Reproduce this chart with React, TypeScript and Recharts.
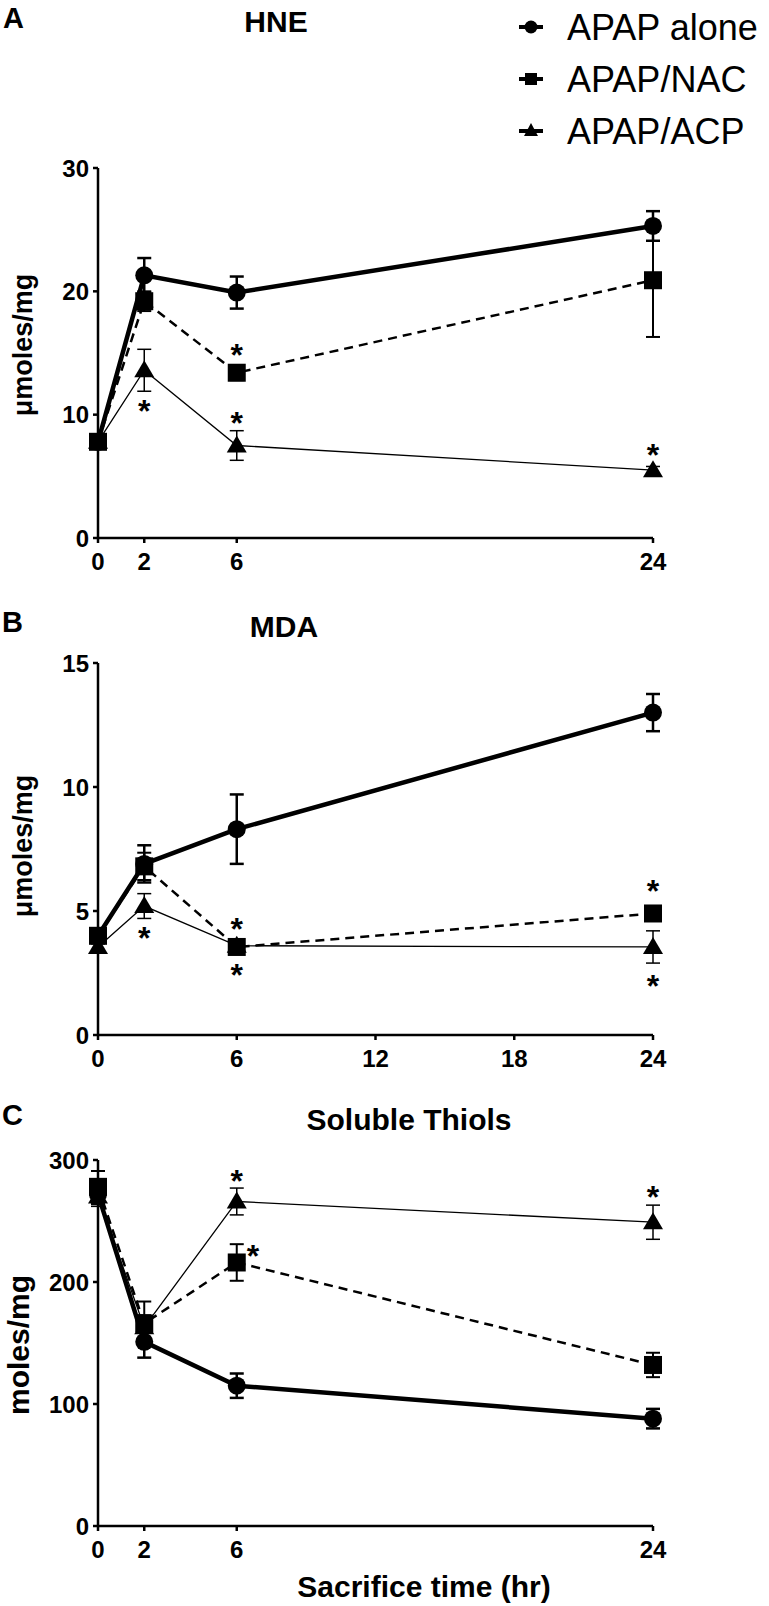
import React from "react";
import {ComposedChart, Line, Scatter, XAxis, YAxis, ErrorBar} from "recharts";

// sampling times (hr)
const hours = [0, 2, 6, 24];

// HNE (umoles/mg)
const hneAlone = [7.8, 21.3, 19.9, 25.3];
const hneAloneErr = [0.5, 1.4, 1.3, 1.2];
const hneNac = [7.8, 19.2, 13.4, 20.9];
const hneNacErr = [0.5, 0.8, 0.6, 4.6];
const hneAcp = [7.8, 13.6, 7.5, 5.5];
const hneAcpErr = [0.5, 1.7, 1.2, 0.3];
const hneStars = [{t: 6, v: 15.3}, {t: 2, v: 10.8}, {t: 6, v: 9.8}, {t: 24, v: 7.2}];

// MDA (umoles/mg)
const mdaAlone = [4.0, 6.9, 8.3, 13.0];
const mdaAloneErr = [0.3, 0.75, 1.4, 0.75];
const mdaNac = [4.0, 6.8, 3.55, 4.9];
const mdaNacErr = [0.3, 0.55, 0.2, 0.2];
const mdaAcp = [3.55, 5.2, 3.6, 3.55];
const mdaAcpErr = [0.2, 0.5, 0.2, 0.65];
const mdaStars = [{t: 2, v: 4.15}, {t: 6, v: 4.5}, {t: 6, v: 2.65}, {t: 24, v: 6.05}, {t: 24, v: 2.2}];

// soluble thiols (moles/mg)
const thiolAlone = [272, 151, 115, 88];
const thiolAloneErr = [8, 13, 10, 8];
const thiolNac = [278, 166, 216, 132];
const thiolNacErr = [13, 18, 15, 10];
const thiolAcp = [270, 163, 266, 249];
const thiolAcpErr = [8, 10, 11, 14];
const thiolStars = [{t: 6, v: 288}, {t: 6.7, v: 226}, {t: 24, v: 275}];

const groups = ["APAP alone", "APAP/NAC", "APAP/ACP"];

const FONT = "'Liberation Sans', Arial, sans-serif";

function buildRows(alone: number[], aloneErr: number[], nac: number[], nacErr: number[], acp: number[], acpErr: number[]) {
    return hours.map((t, i) => ({
        t,
        alone: alone[i], aloneErr: aloneErr[i],
        nac: nac[i], nacErr: nacErr[i],
        acp: acp[i], acpErr: acpErr[i],
    }));
}

const circleDot = (p: any) => <circle key={`c-${p.index}`} cx={p.cx} cy={p.cy} r={9} fill="#000"/>;
const squareDot = (p: any) => <rect key={`s-${p.index}`} x={p.cx - 9} y={p.cy - 9} width={18} height={18} fill="#000"/>;
const triangleDot = (p: any) => (
    <path key={`t-${p.index}`} d={`M${p.cx},${p.cy - 10} L${p.cx + 10},${p.cy + 7} L${p.cx - 10},${p.cy + 7} Z`} fill="#000"/>
);
const star = (p: any) => (
    <text x={p.cx} y={p.cy + 17} textAnchor="middle" fontSize={32} fontWeight="bold" fontFamily={FONT} fill="#000">*</text>
);

interface PanelProps {
    top: number;
    height: number;
    marginTop: number;
    marginBottom: number;
    rows: any[];
    stars: { t: number, v: number }[];
    yMax: number;
    yTicks: number[];
    xTicks: number[];
}

function Panel(props: PanelProps) {
    const axisStyle = {stroke: "#000", strokeWidth: 2.5};
    const tickStyle = {fill: "#000", fontSize: 24, fontWeight: "bold", fontFamily: FONT};
    return (
        <div style={{position: "absolute", left: 0, top: props.top}}>
            <ComposedChart width={769} height={props.height} data={props.rows}
                           margin={{top: props.marginTop, right: 116, bottom: props.marginBottom, left: 38}}>
                <XAxis type="number" dataKey="t" domain={[0, 24]} ticks={props.xTicks} interval={0}
                       height={30} tickSize={5} tickMargin={10}
                       axisLine={axisStyle} tickLine={axisStyle} tick={tickStyle}/>
                <YAxis type="number" domain={[0, props.yMax]} ticks={props.yTicks} interval={0}
                       width={60} tickSize={5} tickMargin={4}
                       axisLine={axisStyle} tickLine={axisStyle} tick={tickStyle}/>
                <Line dataKey="acp" type="linear" stroke="#000" strokeWidth={1.3} dot={triangleDot}
                      activeDot={false} isAnimationActive={false}>
                    <ErrorBar dataKey="acpErr" direction="y" width={7} stroke="#000" strokeWidth={1.5}/>
                </Line>
                <Line dataKey="alone" type="linear" stroke="#000" strokeWidth={4.5} dot={circleDot}
                      activeDot={false} isAnimationActive={false}>
                    <ErrorBar dataKey="aloneErr" direction="y" width={7} stroke="#000" strokeWidth={2.5}/>
                </Line>
                <Line dataKey="nac" type="linear" stroke="#000" strokeWidth={2.5} strokeDasharray="9 6"
                      dot={squareDot} activeDot={false} isAnimationActive={false}>
                    <ErrorBar dataKey="nacErr" direction="y" width={7} stroke="#000" strokeWidth={2}/>
                </Line>
                <Scatter data={props.stars} dataKey="v" shape={star} isAnimationActive={false}/>
            </ComposedChart>
        </div>
    );
}

function Labels() {
    const bold = {fontFamily: FONT, fontWeight: "bold", fill: "#000"} as const;
    const rows = [40, 92, 144];
    return (
        <svg width={769} height={1606} style={{position: "absolute", left: 0, top: 0, pointerEvents: "none"}}>
            <text x={3} y={28} fontSize={29} {...bold}>A</text>
            <text x={276} y={32} fontSize={30} textAnchor="middle" {...bold}>HNE</text>
            <text x={2} y={632} fontSize={29} {...bold}>B</text>
            <text x={284} y={637} fontSize={30} textAnchor="middle" {...bold}>MDA</text>
            <text x={2} y={1125} fontSize={29} {...bold}>C</text>
            <text x={409} y={1130} fontSize={30} textAnchor="middle" {...bold}>Soluble Thiols</text>
            <text x={424} y={1597} fontSize={30} textAnchor="middle" {...bold}>Sacrifice time (hr)</text>
            <text x={32} y={345} fontSize={27} textAnchor="middle" transform="rotate(-90 32 345)" {...bold}>μmoles/mg</text>
            <text x={32} y={846} fontSize={27} textAnchor="middle" transform="rotate(-90 32 846)" {...bold}>μmoles/mg</text>
            <text x={29} y={1345} fontSize={30} textAnchor="middle" transform="rotate(-90 29 1345)" {...bold}>moles/mg</text>
            {groups.map((g, i) => {
                const cy = rows[i] - 13;
                return (
                    <g key={g}>
                        <line x1={519} x2={543} y1={cy} y2={cy} stroke="#000" strokeWidth={4}/>
                        {i === 0 && <circle cx={531} cy={cy} r={6.5} fill="#000"/>}
                        {i === 1 && <rect x={525} y={cy - 6} width={12} height={12} fill="#000"/>}
                        {i === 2 && <path d={`M531,${cy - 8} L538,${cy + 5} L524,${cy + 5} Z`} fill="#000"/>}
                        <text x={567} y={rows[i]} fontSize={36} fontFamily={FONT} fill="#000">{g}</text>
                    </g>
                );
            })}
        </svg>
    );
}

export default function App() {
    const hneRows = buildRows(hneAlone, hneAloneErr, hneNac, hneNacErr, hneAcp, hneAcpErr);
    const mdaRows = buildRows(mdaAlone, mdaAloneErr, mdaNac, mdaNacErr, mdaAcp, mdaAcpErr);
    const thiolRows = buildRows(thiolAlone, thiolAloneErr, thiolNac, thiolNacErr, thiolAcp, thiolAcpErr);
    return (
        <div style={{position: "absolute", left: 0, top: 0, width: 769, height: 1606, background: "#fff"}}>
            <Panel top={100} height={480} marginTop={68} marginBottom={12} rows={hneRows} stars={hneStars}
                   yMax={30} yTicks={[0, 10, 20, 30]} xTicks={[0, 2, 6, 24]}/>
            <Panel top={600} height={480} marginTop={63} marginBottom={15} rows={mdaRows} stars={mdaStars}
                   yMax={15} yTicks={[0, 5, 10, 15]} xTicks={[0, 6, 12, 18, 24]}/>
            <Panel top={1100} height={470} marginTop={60} marginBottom={14} rows={thiolRows} stars={thiolStars}
                   yMax={300} yTicks={[0, 100, 200, 300]} xTicks={[0, 2, 6, 24]}/>
            <Labels/>
        </div>
    );
}
